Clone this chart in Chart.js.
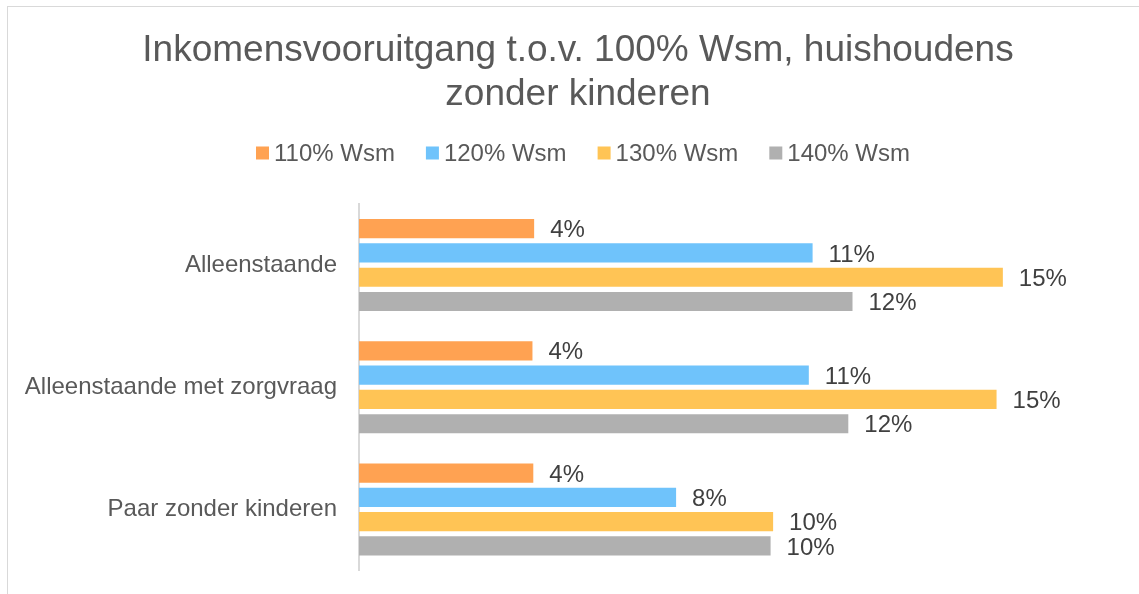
<!DOCTYPE html>
<html lang="nl">
<head>
<meta charset="utf-8">
<title>Inkomensvooruitgang</title>
<script src="https://cdn.jsdelivr.net/npm/chart.js@4.4.1/dist/chart.umd.min.js"></script>
<style>
    html, body { margin: 0; padding: 0; background: #fff; overflow: hidden; }
    #frame {
        position: absolute; left: 7px; top: 6px;
        width: 1142px; height: 602px;
        border: 1px solid #d9d9d9; box-sizing: border-box;
    }
    #chart { display: block; }
</style>
</head>
<body>
<div id="frame"><canvas id="chart" width="1140" height="600"></canvas></div>
<script>
const categories = ["Alleenstaande", "Alleenstaande met zorgvraag", "Paar zonder kinderen"];
const seriesNames = ["110% Wsm", "120% Wsm", "130% Wsm", "140% Wsm"];
const wsm110 = [4.17, 4.13, 4.15];
const wsm120 = [10.80, 10.71, 7.55];
const wsm130 = [15.33, 15.18, 9.86];
const wsm140 = [11.75, 11.65, 9.80];
const seriesColors = ["#FFA252", "#6FC3FB", "#FFC455", "#B0B0B0"];

const FONT = "'Liberation Sans', Arial, sans-serif";

// Eigen legenda (klein vierkantje, tekst er direct naast)
const legendPlugin = {
    id: "customLegend",
    afterDraw(chart) {
        const ctx = chart.ctx;
        const box = 13, gap = 5, spacing = 31;
        ctx.save();
        ctx.font = "24px " + FONT;
        ctx.textBaseline = "middle";
        ctx.textAlign = "left";
        const widths = seriesNames.map(n => ctx.measureText(n).width);
        const total = widths.reduce((s, w) => s + box + gap + w, 0) + spacing * (seriesNames.length - 1);
        let x = chart.width / 2 + 5 - total / 2;
        const y = 146;
        seriesNames.forEach((name, i) => {
            ctx.fillStyle = seriesColors[i];
            ctx.fillRect(x, y - box / 2, box, box);
            ctx.fillStyle = "#595959";
            ctx.fillText(name, x + box + gap, y + 1);
            x += box + gap + widths[i] + spacing;
        });
        ctx.restore();
    }
};

// Percentages achter de balken
const valueLabels = {
    id: "valueLabels",
    afterDatasetsDraw(chart) {
        const ctx = chart.ctx;
        ctx.save();
        ctx.font = "24px " + FONT;
        ctx.fillStyle = "#404040";
        ctx.textBaseline = "middle";
        ctx.textAlign = "left";
        chart.data.datasets.forEach((ds, i) => {
            chart.getDatasetMeta(i).data.forEach((bar, j) => {
                ctx.fillText(Math.round(ds.data[j]) + "%", bar.x + 16, bar.y + 2);
            });
        });
        ctx.restore();
    }
};

const allSeries = [wsm110, wsm120, wsm130, wsm140];

new Chart(document.getElementById("chart"), {
    type: "bar",
    data: {
        labels: categories,
        datasets: allSeries.map((values, i) => ({
            label: seriesNames[i],
            data: values,
            backgroundColor: seriesColors[i],
            borderWidth: 0,
            categoryPercentage: 0.795,
            barPercentage: 0.79
        }))
    },
    options: {
        indexAxis: "y",
        responsive: false,
        animation: false,
        events: [],
        layout: { padding: { left: 0, right: 0, top: 0, bottom: 35 } },
        scales: {
            // 42 px per procentpunt, zoals in het origineel
            x: { display: false, min: 0, max: 789 / 42 },
            y: {
                grid: { display: false, drawTicks: false },
                border: { display: true, color: "#d9d9d9", width: 2 },
                ticks: { color: "#595959", font: { family: FONT, size: 24 }, padding: 22 },
                afterFit(scale) { scale.width = 351; }
            }
        },
        plugins: {
            legend: { display: false },
            tooltip: { enabled: false },
            title: {
                display: true,
                text: ["Inkomensvooruitgang t.o.v. 100% Wsm, huishoudens", "zonder kinderen"],
                color: "#595959",
                font: { family: FONT, size: 37, weight: "normal", lineHeight: 44 / 37 },
                padding: { top: 22, bottom: 87 }
            }
        }
    },
    plugins: [legendPlugin, valueLabels]
});
</script>
</body>
</html>
